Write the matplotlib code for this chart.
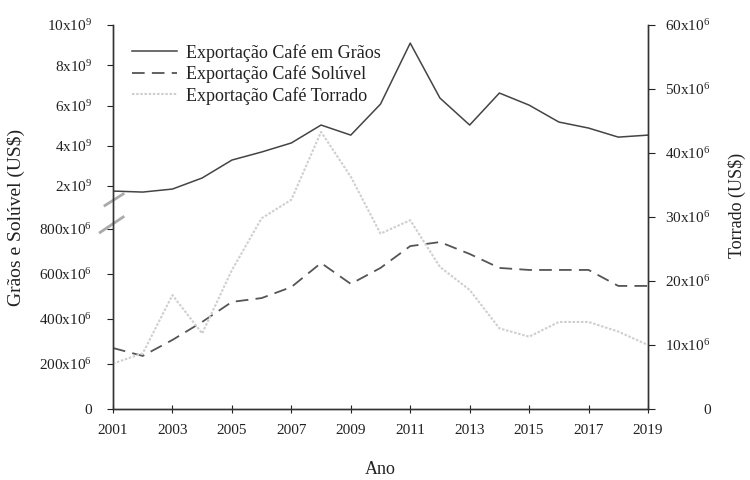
import numpy as np
import matplotlib
matplotlib.use("Agg")
import matplotlib.pyplot as plt

# data
anos = [2001, 2002, 2003, 2004, 2005, 2006, 2007, 2008, 2009, 2010,
        2011, 2012, 2013, 2014, 2015, 2016, 2017, 2018, 2019]
graos = [1.75, 1.70, 1.85, 2.40, 3.29, 3.69, 4.14, 5.03, 4.53, 6.07,
         9.10, 6.37, 5.03, 6.62, 6.02, 5.18, 4.88, 4.43, 4.53]          # x10^9 US$
soluvel = [271, 236, 307, 387, 476, 493, 542, 649, 556, 627,
           724, 742, 689, 627, 618, 618, 618, 547, 547]                # x10^6 US$
torrado = [7.1, 8.7, 17.8, 11.8, 21.7, 29.8, 32.7, 43.3, 36.3, 27.4,
           29.5, 22.2, 18.6, 12.6, 11.3, 13.6, 13.6, 12.1, 10.0]        # x10^6 US$

left_ticks = [0, 200e6, 400e6, 600e6, 800e6, 2e9, 4e9, 6e9, 8e9, 10e9]
left_labels = ['0', '200x10$^6$', '400x10$^6$', '600x10$^6$', '800x10$^6$',
               '2x10$^9$', '4x10$^9$', '6x10$^9$', '8x10$^9$', '10x10$^9$']
right_ticks = [0, 10e6, 20e6, 30e6, 40e6, 50e6, 60e6]
right_labels = ['0', '10x10$^6$', '20x10$^6$', '30x10$^6$', '40x10$^6$',
                '50x10$^6$', '60x10$^6$']
x_ticks = list(range(2001, 2020, 2))

plt.rcParams['font.family'] = ['Liberation Serif', 'DejaVu Serif']
plt.rcParams['mathtext.fontset'] = 'custom'
plt.rcParams['mathtext.rm'] = 'Liberation Serif'
plt.rcParams['mathtext.it'] = 'Liberation Serif:italic'

# broken left axis: piecewise linear scale
vb = [0, 8e8, 1.5e9, 1e10]
pb = [0, 180, 212.9, 384]


def fwd(v):
    return np.interp(v, vb, pb)


def inv(p):
    return np.interp(p, pb, vb)


txt = '#222222'
fig = plt.figure(figsize=(7.5, 4.8), dpi=100)
ax = fig.add_axes([113 / 750, 71 / 480, 535 / 750, 384 / 480])
ax.set_yscale('function', functions=(fwd, inv))
ax2 = ax.twinx()

g = np.array(graos) * 1e9
s = np.array(soluvel) * 1e6
t = np.array(torrado) * 1e6

l1, = ax.plot(anos, g, color='#444444', lw=1.1)
l2, = ax.plot(anos, s, color='#555555', lw=1.3, dashes=(7, 4))
l3, = ax2.plot(anos, t, color='#cfcfcf', lw=1.5, dashes=(1.2, 0.8))

ax.set_xlim(2001, 2019)
ax.set_ylim(0, 1e10)
ax2.set_ylim(0, 60e6)

ax.set_xticks(x_ticks)
ax.set_xticklabels([str(a) for a in x_ticks])
ax.set_yticks(left_ticks)
ax.set_yticklabels(left_labels)
ax.minorticks_off()
ax2.set_yticks(right_ticks)
ax2.set_yticklabels(right_labels)

for a in (ax, ax2):
    a.spines['top'].set_visible(False)
    for sp in a.spines.values():
        sp.set_color('#333333')
        sp.set_linewidth(1.0)

ax.tick_params(axis='x', direction='inout', length=6, pad=8, labelsize=11, colors=txt)
ax.tick_params(axis='y', direction='out', length=4, pad=11, labelsize=11, colors=txt)
ax2.tick_params(axis='y', direction='out', length=5, pad=40, labelsize=11, colors=txt)
for lab in ax2.get_yticklabels():
    lab.set_ha('right')

ax.set_xlabel('Ano', fontsize=13, color=txt)
ax.xaxis.set_label_coords(0.5, -0.135)
ax.set_ylabel('Grãos e Solúvel (US$)', fontsize=14, color=txt)
ax.yaxis.set_label_coords(-0.165, 0.5)
ax2.set_ylabel('Torrado (US$)', fontsize=13, color=txt, rotation=90)
ax2.yaxis.set_label_coords(1.15, 0.53)

# axis break marks
ax.plot([-0.024, 0.019], [0.46, 0.50], color='#aaaaaa', lw=2, transform=ax.transAxes, clip_on=False)
ax.plot([-0.015, 0.019], [0.53, 0.56], color='#aaaaaa', lw=2, transform=ax.transAxes, clip_on=False)

ax.legend([l1, l2, l3],
          ['Exportação Café em Grãos', 'Exportação Café Solúvel', 'Exportação Café Torrado'],
          loc='upper left', bbox_to_anchor=(0.022, 0.97), frameon=False, fontsize=13,
          handlelength=2.5, handletextpad=0.5, labelspacing=0.2, labelcolor=txt, borderaxespad=0)

fig.savefig('out.png', dpi=100)
